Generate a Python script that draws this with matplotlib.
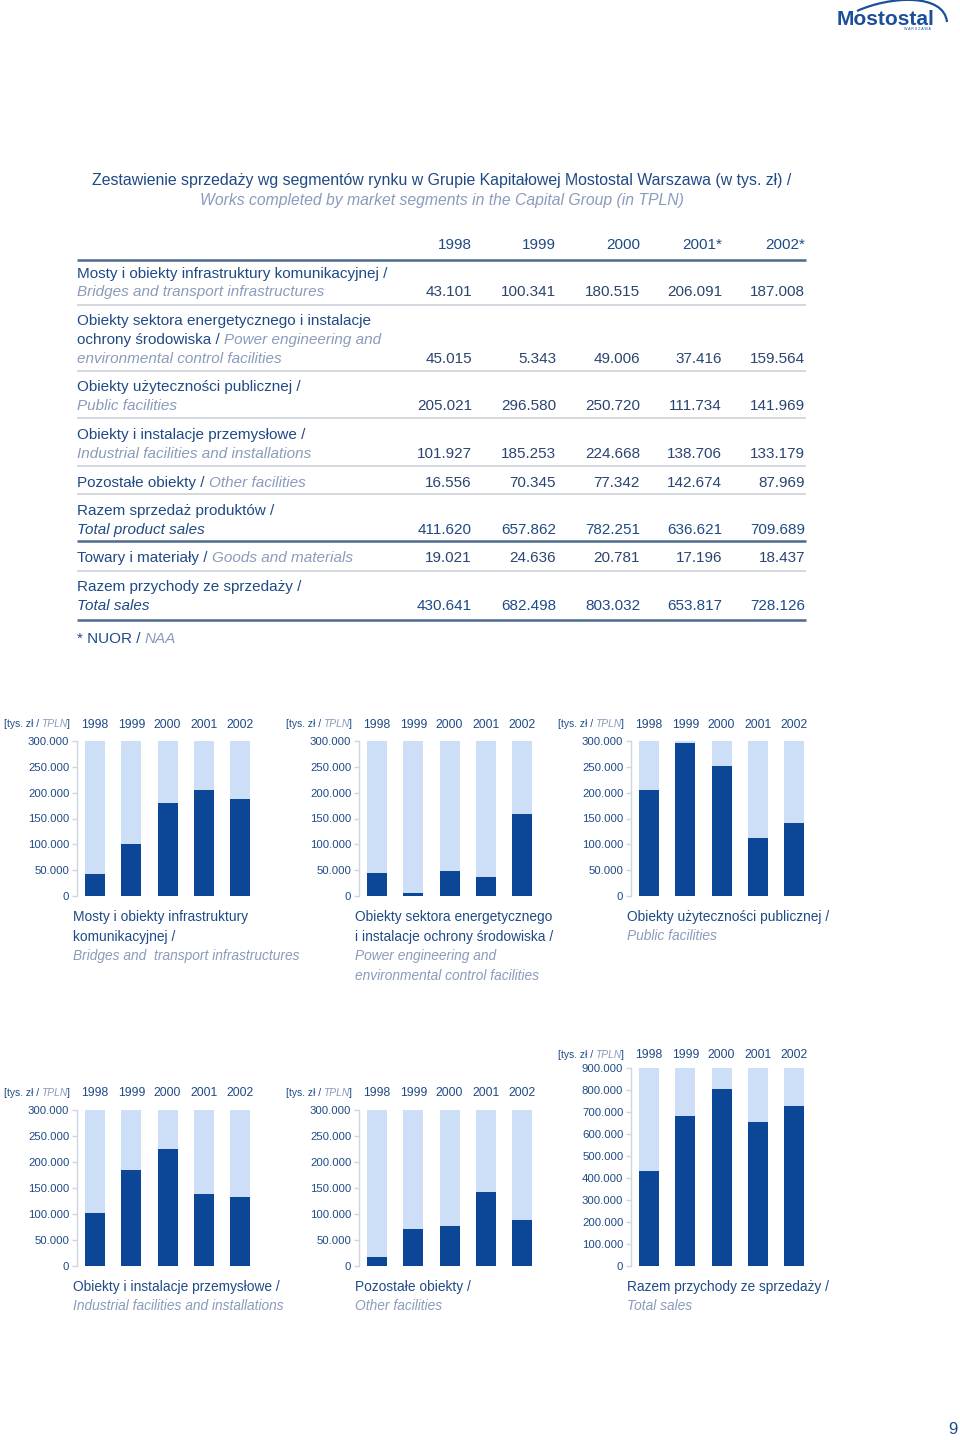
import matplotlib
matplotlib.use('Agg')
import matplotlib.pyplot as plt
from matplotlib import font_manager
from matplotlib.path import Path
from matplotlib.patches import PathPatch
from matplotlib.ticker import FixedLocator, FuncFormatter

# ---------------- data ----------------
years = ['1998', '1999', '2000', '2001', '2002']
header_years = ['1998', '1999', '2000', '2001*', '2002*']

bridges = [43.101, 100.341, 180.515, 206.091, 187.008]
power = [45.015, 5.343, 49.006, 37.416, 159.564]
public = [205.021, 296.580, 250.720, 111.734, 141.969]
industrial = [101.927, 185.253, 224.668, 138.706, 133.179]
other = [16.556, 70.345, 77.342, 142.674, 87.969]
product_total = [411.620, 657.862, 782.251, 636.621, 709.689]
goods = [19.021, 24.636, 20.781, 17.196, 18.437]
total_sales = [430.641, 682.498, 803.032, 653.817, 728.126]

title_pl = 'Zestawienie sprzedaży wg segmentów rynku w Grupie Kapitałowej Mostostal Warszawa (w tys. zł) /'
title_en = 'Works completed by market segments in the Capital Group (in TPLN)'

# ---------------- style ----------------
DARK = '#0b4796'
LIGHT = '#cddff7'
PL = '#1f4a86'
EN = '#8a9bbb'
VAL = '#2b4470'
THICK = '#4c6a8e'
THIN = '#c9ced6'
AXIS = '#cfd6df'

names = {f.name for f in font_manager.fontManager.ttflist}
REG = 'Liberation Sans' if 'Liberation Sans' in names else 'DejaVu Sans'
NARROW = 'Liberation Sans Narrow' if 'Liberation Sans Narrow' in names else REG
NS = 1.0 if NARROW != REG else 0.84

STY = {'pl': (PL, 'normal'), 'en': (EN, 'italic'), 'end': (PL, 'italic')}

fig = plt.figure(figsize=(9.6, 14.4), dpi=100)
ov = fig.add_axes([0, 0, 1, 1])
ov.set_xlim(0, 960)
ov.set_ylim(1440, 0)
ov.axis('off')
renderer = fig.canvas.get_renderer()


def seg_text(x, y, segments, size, family=REG):
    cur = x
    for i, (s, st) in enumerate(segments):
        color, style = STY[st]
        t = ov.text(cur, y, s, fontsize=size, family=family, color=color,
                    style=style, va='baseline', ha='left')
        cur += t.get_window_extent(renderer).width + size * 0.28 * 100 / 72


# ---------------- logo ----------------
ov.text(886, 25, 'Mostostal', fontsize=15, fontweight='bold', family=REG,
        color='#1b4f9c', ha='center', va='baseline')
ov.text(917, 30.5, 'W A R S Z A W A', fontsize=2.6, family=REG, color='#1b4f9c',
        ha='center', va='baseline')
arc = Path([(857, 11), (890, -4), (944, -7), (947, 22)],
           [Path.MOVETO, Path.CURVE4, Path.CURVE4, Path.CURVE4])
ov.add_patch(PathPatch(arc, fc='none', ec='#1b4f9c', lw=1.6))

# ---------------- title ----------------
ov.text(442, 185, title_pl, fontsize=11.4, family=REG, color=PL, ha='center', va='baseline')
ov.text(442, 205, title_en, fontsize=11.3, family=REG, color=EN, style='italic',
        ha='center', va='baseline')

# ---------------- table ----------------
col_right = [472, 556, 640, 722, 805]
TS = 11
for cr, h in zip(col_right, header_years):
    ov.text(cr, 249, h, fontsize=TS, family=REG, color=PL, ha='right', va='baseline')

rows = [
    ([[('Mosty i obiekty infrastruktury komunikacyjnej /', 'pl')],
      [('Bridges and transport infrastructures', 'en')]], bridges, [278, 296], VAL),
    ([[('Obiekty sektora energetycznego i instalacje', 'pl')],
      [('ochrony środowiska /', 'pl'), ('Power engineering and', 'en')],
      [('environmental control facilities', 'en')]], power, [325, 344, 363], VAL),
    ([[('Obiekty użyteczności publicznej /', 'pl')],
      [('Public facilities', 'en')]], public, [391, 410], VAL),
    ([[('Obiekty i instalacje przemysłowe /', 'pl')],
      [('Industrial facilities and installations', 'en')]], industrial, [439, 458], VAL),
    ([[('Pozostałe obiekty /', 'pl'), ('Other facilities', 'en')]], other, [487], VAL),
    ([[('Razem sprzedaż produktów /', 'pl')],
      [('Total product sales', 'end')]], product_total, [515, 534], PL),
    ([[('Towary i materiały /', 'pl'), ('Goods and materials', 'en')]], goods, [562], VAL),
    ([[('Razem przychody ze sprzedaży /', 'pl')],
      [('Total sales', 'end')]], total_sales, [591, 610], PL),
]
for lines, vals, ys, vcol in rows:
    for segs, yy in zip(lines, ys):
        seg_text(77, yy, segs, TS)
    for cr, v in zip(col_right, vals):
        ov.text(cr, ys[-1], f'{v:.3f}', fontsize=TS, family=REG, color=vcol,
                ha='right', va='baseline')

rule_y = [(260, 'thick'), (305, 'thin'), (371, 'thin'), (418, 'thin'), (466, 'thin'),
          (494, 'thin'), (541, 'thick'), (571, 'thin'), (620, 'thick')]
for yy, kind in rule_y:
    if kind == 'thick':
        ov.plot([77, 806], [yy, yy], color=THICK, lw=1.8, solid_capstyle='butt')
    else:
        ov.plot([77, 806], [yy, yy], color=THIN, lw=1.1, solid_capstyle='butt')

seg_text(77, 643, [('* NUOR /', 'pl'), ('NAA', 'en')], TS)

# ---------------- charts ----------------
SPACING = 36.25
TICK_SIZE = 8.6 if NS == 1.0 else 8.2
HEAD_SIZE = 8.6 if NS == 1.0 else 7.4
YEAR_SIZE = 10.5 * NS
CAP_SIZE = 12.0 if NS == 1.0 else 9.95


def fmt(v, pos):
    return '0' if v == 0 else f'{v:.3f}'


def chart(left, bottom, top, values, vmax, step, head_y, caption):
    w = SPACING * 5
    ax = fig.add_axes([left / 960, 1 - bottom / 1440, w / 960, (bottom - top) / 1440])
    xs = list(range(len(values)))
    ax.bar(xs, [vmax] * len(values), width=0.55, color=LIGHT, zorder=1)
    ax.bar(xs, values, width=0.55, color=DARK, zorder=2)
    ax.set_xlim(-0.5, 4.5)
    ax.set_ylim(0, vmax)
    for s in ['top', 'right', 'bottom']:
        ax.spines[s].set_visible(False)
    ax.spines['left'].set_color(AXIS)
    ax.spines['left'].set_linewidth(1.0)
    ax.set_xticks([])
    ticks = [i * step for i in range(int(round(vmax / step)) + 1)]
    ax.yaxis.set_major_locator(FixedLocator(ticks))
    ax.yaxis.set_major_formatter(FuncFormatter(fmt))
    ax.tick_params(axis='y', length=3.5, width=1.0, color=AXIS, pad=2,
                   labelsize=TICK_SIZE, labelcolor=PL)
    for lab in ax.get_yticklabels():
        lab.set_family(NARROW)
    ax.patch.set_alpha(0)
    # header
    hx = left - 73
    t = ov.text(hx, head_y, '[tys. zł /', fontsize=HEAD_SIZE, family=NARROW, color=PL,
                ha='left', va='baseline')
    wpx = t.get_window_extent(renderer).width
    t2 = ov.text(hx + wpx + 2, head_y, 'TPLN', fontsize=HEAD_SIZE, family=NARROW, color=EN,
                 style='italic', ha='left', va='baseline')
    wpx2 = t2.get_window_extent(renderer).width
    ov.text(hx + wpx + 2 + wpx2, head_y, ']', fontsize=HEAD_SIZE, family=NARROW, color=PL,
            ha='left', va='baseline')
    for i, yl in enumerate(years):
        ov.text(left + SPACING * (i + 0.5), head_y + 0.5, yl, fontsize=YEAR_SIZE,
                family=NARROW, color=PL, ha='center', va='baseline')
    # caption
    cy = bottom + 25
    for segs in caption:
        seg_text(left - 4, cy, segs, CAP_SIZE, family=NARROW)
        cy += 19.5


chart(77, 896, 741, bridges, 300, 50, 727,
      [[('Mosty i obiekty infrastruktury', 'pl')],
       [('komunikacyjnej /', 'pl')],
       [('Bridges and  transport infrastructures', 'en')]])
chart(359, 896, 741, power, 300, 50, 727,
      [[('Obiekty sektora energetycznego', 'pl')],
       [('i instalacje ochrony środowiska /', 'pl')],
       [('Power engineering and', 'en')],
       [('environmental control facilities', 'en')]])
chart(631, 896, 741, public, 300, 50, 727,
      [[('Obiekty użyteczności publicznej /', 'pl')],
       [('Public facilities', 'en')]])
chart(77, 1266, 1110, industrial, 300, 50, 1096,
      [[('Obiekty i instalacje przemysłowe /', 'pl')],
       [('Industrial facilities and installations', 'en')]])
chart(359, 1266, 1110, other, 300, 50, 1096,
      [[('Pozostałe obiekty /', 'pl')],
       [('Other facilities', 'en')]])
chart(631, 1266, 1068, total_sales, 900, 100, 1058,
      [[('Razem przychody ze sprzedaży /', 'pl')],
       [('Total sales', 'en')]])

# page number
ov.text(953, 1434, '9', fontsize=12, family=REG, color=PL, ha='center', va='baseline')

fig.savefig('out.png', dpi=100)
